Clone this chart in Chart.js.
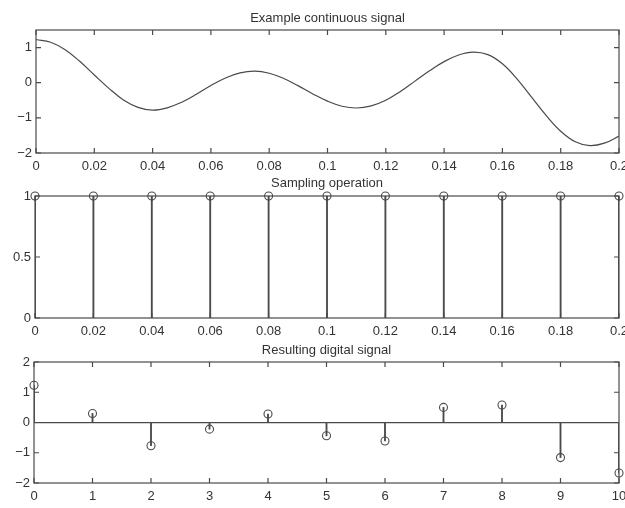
<!DOCTYPE html>
<html>
<head>
<meta charset="utf-8">
<script src="https://cdn.jsdelivr.net/npm/chart.js@4.4.1/dist/chart.umd.min.js"></script>
<style>
  html, body { margin: 0; padding: 0; background: #ffffff; overflow: hidden; }
  body { width: 625px; height: 508px; position: relative; }
  canvas { position: absolute; left: 0; }
</style>
</head>
<body>
<canvas id="c1" width="625" height="180" style="top:0px"></canvas>
<canvas id="c2" width="625" height="180" style="top:170px"></canvas>
<canvas id="c3" width="625" height="168" style="top:340px"></canvas>
<script>
// ---------- DATA ----------
const titles = ["Example continuous signal", "Sampling operation", "Resulting digital signal"];

// Plot 1: continuous signal (time in s)
const contTime = [0, 0.005, 0.01, 0.015, 0.02, 0.025, 0.03, 0.035, 0.04, 0.045,
                  0.05, 0.055, 0.06, 0.065, 0.07, 0.075, 0.08, 0.085, 0.09, 0.095,
                  0.1, 0.105, 0.11, 0.115, 0.12, 0.125, 0.13, 0.135, 0.14, 0.145,
                  0.15, 0.155, 0.16, 0.165, 0.17, 0.175, 0.18, 0.185, 0.19, 0.195, 0.2];
const contValue = [1.23, 1.15, 0.94, 0.61, 0.22, -0.16, -0.49, -0.70, -0.78, -0.715,
                   -0.555, -0.33, -0.08, 0.136, 0.28, 0.33, 0.27, 0.12, -0.09, -0.32,
                   -0.525, -0.67, -0.72, -0.66, -0.50, -0.25, 0.045, 0.34, 0.60, 0.79,
                   0.87, 0.80, 0.54, 0.11, -0.41, -0.93, -1.38, -1.68, -1.79, -1.72, -1.52];

// Plot 2: sampling impulses
const sampleTime = [0, 0.02, 0.04, 0.06, 0.08, 0.1, 0.12, 0.14, 0.16, 0.18, 0.2];
const sampleValue = [1, 1, 1, 1, 1, 1, 1, 1, 1, 1, 1];

// Plot 3: digital signal
const sampleIndex = [0, 1, 2, 3, 4, 5, 6, 7, 8, 9, 10];
const digitalValue = [1.23, 0.3, -0.77, -0.22, 0.28, -0.44, -0.61, 0.5, 0.58, -1.16, -1.67];

// Tick values and labels
const timeTicks = [0, 0.02, 0.04, 0.06, 0.08, 0.1, 0.12, 0.14, 0.16, 0.18, 0.2];
const timeTickLabels = ["0", "0.02", "0.04", "0.06", "0.08", "0.1", "0.12", "0.14", "0.16", "0.18", "0.2"];
const indexTicks = [0, 1, 2, 3, 4, 5, 6, 7, 8, 9, 10];
const indexTickLabels = ["0", "1", "2", "3", "4", "5", "6", "7", "8", "9", "10"];
const y1Ticks = [-2, -1, 0, 1];
const y1TickLabels = ["\u22122", "\u22121", "0", "1"];
const y2Ticks = [0, 0.5, 1];
const y2TickLabels = ["0", "0.5", "1"];
const y3Ticks = [-2, -1, 0, 1, 2];
const y3TickLabels = ["\u22122", "\u22121", "0", "1", "2"];

// ---------- STYLE ----------
const FONT = "'Liberation Sans', Arial, Helvetica, sans-serif";
const LINE = "#4a4a4a";
const TEXT = "#333333";

Chart.defaults.font.family = FONT;
Chart.defaults.font.size = 13;
Chart.defaults.color = TEXT;

const boxPlugin = {
  id: 'mbox',
  afterDraw(chart) {
    const { ctx, chartArea: a, scales: { x, y } } = chart;
    ctx.save();
    ctx.strokeStyle = LINE;
    ctx.lineWidth = 1.2;
    ctx.strokeRect(a.left, a.top, a.right - a.left, a.bottom - a.top);
    const L = 5;
    ctx.beginPath();
    x.ticks.forEach(t => {
      const p = x.getPixelForValue(t.value);
      ctx.moveTo(p, a.bottom); ctx.lineTo(p, a.bottom - L);
      ctx.moveTo(p, a.top); ctx.lineTo(p, a.top + L);
    });
    y.ticks.forEach(t => {
      const p = y.getPixelForValue(t.value);
      ctx.moveTo(a.left, p); ctx.lineTo(a.left + L, p);
      ctx.moveTo(a.right, p); ctx.lineTo(a.right - L, p);
    });
    ctx.stroke();
    ctx.restore();
  }
};

function xScale(min, max, ticks, labels, height, pad) {
  return {
    type: 'linear', min, max, offset: false,
    grid: { display: false, drawTicks: false },
    border: { display: false },
    afterBuildTicks: s => { s.ticks = ticks.map(v => ({ value: v })); },
    afterFit: s => { s.paddingLeft = 0; s.paddingRight = 0; s.height = height; },
    ticks: { padding: pad, maxRotation: 0, autoSkip: false, color: TEXT,
             callback: (v, i) => labels[i] }
  };
}
function yScale(min, max, ticks, labels, width, zeroLine) {
  return {
    type: 'linear', min, max,
    grid: { display: !!zeroLine, drawTicks: false,
            color: c => (c.tick && c.tick.value === 0) ? LINE : 'rgba(0,0,0,0)',
            lineWidth: 1.2 },
    border: { display: false },
    afterBuildTicks: s => { s.ticks = ticks.map(v => ({ value: v })); },
    afterFit: s => { s.width = width; s.paddingTop = 0; s.paddingBottom = 0; },
    ticks: { padding: 4, autoSkip: false, color: TEXT,
             callback: (v, i) => labels[i] }
  };
}
function titleOpt(text, pt, pb) {
  return { display: true, text, fullSize: false, color: TEXT,
           font: { size: 13, weight: 'normal', family: FONT },
           padding: { top: pt, bottom: pb } };
}
const common = {
  responsive: false, animation: false,
  layout: { padding: { left: 0, right: 6, top: 0, bottom: 0 } },
};

// ---------- PLOT 1 ----------
new Chart(document.getElementById('c1'), {
  type: 'line',
  data: {
    datasets: [{
      data: contTime.map((t, i) => ({ x: t, y: contValue[i] })),
      borderColor: LINE, borderWidth: 1.2, pointRadius: 0, tension: 0.4, fill: false
    }]
  },
  options: Object.assign({}, common, {
    plugins: { legend: { display: false }, tooltip: { enabled: false },
               title: titleOpt(titles[0], 10.2, 4.2) },
    scales: {
      x: xScale(0, 0.2, timeTicks, timeTickLabels, 27, 6),
      y: yScale(-2, 1.5, y1Ticks, y1TickLabels, 36, false)
    }
  }),
  plugins: [boxPlugin]
});

// ---------- PLOT 2 ----------
new Chart(document.getElementById('c2'), {
  type: 'bar',
  data: {
    datasets: [
      { type: 'bar', data: sampleTime.map((t, i) => ({ x: t, y: sampleValue[i] })),
        backgroundColor: LINE, barThickness: 1.2, grouped: false, borderWidth: 0 },
      { type: 'scatter', data: sampleTime.map((t, i) => ({ x: t, y: sampleValue[i] })),
        pointStyle: 'circle', pointRadius: 4, pointBackgroundColor: 'rgba(0,0,0,0)',
        pointBorderColor: LINE, pointBorderWidth: 1.1, showLine: false, clip: false }
    ]
  },
  options: Object.assign({}, common, {
    plugins: { legend: { display: false }, tooltip: { enabled: false },
               title: titleOpt(titles[1], 5.2, 5.2) },
    scales: {
      x: xScale(0, 0.2, timeTicks, timeTickLabels, 32, 6),
      y: yScale(0, 1, y2Ticks, y2TickLabels, 35, false)
    }
  }),
  plugins: [boxPlugin]
});

// ---------- PLOT 3 ----------
new Chart(document.getElementById('c3'), {
  type: 'bar',
  data: {
    datasets: [
      { type: 'bar', data: sampleIndex.map((n, i) => ({ x: n, y: digitalValue[i] })),
        backgroundColor: LINE, barThickness: 1.2, grouped: false, borderWidth: 0 },
      { type: 'scatter', data: sampleIndex.map((n, i) => ({ x: n, y: digitalValue[i] })),
        pointStyle: 'circle', pointRadius: 4, pointBackgroundColor: 'rgba(0,0,0,0)',
        pointBorderColor: LINE, pointBorderWidth: 1.1, showLine: false, clip: false }
    ]
  },
  options: Object.assign({}, common, {
    plugins: { legend: { display: false }, tooltip: { enabled: false },
               title: titleOpt(titles[2], 2.2, 4.2) },
    scales: {
      x: xScale(0, 10, indexTicks, indexTickLabels, 25, 6),
      y: yScale(-2, 2, y3Ticks, y3TickLabels, 34, true)
    }
  }),
  plugins: [boxPlugin]
});
</script>
</body>
</html>
